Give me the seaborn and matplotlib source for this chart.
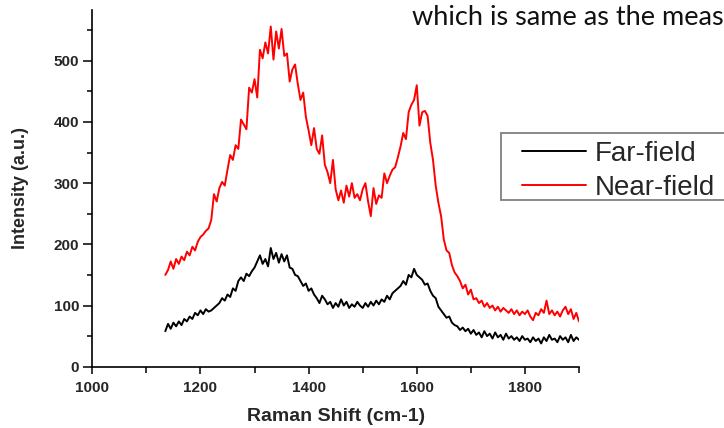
import numpy as np
import pandas as pd
import matplotlib
matplotlib.use("Agg")
import matplotlib.pyplot as plt
import seaborn as sns
from matplotlib.lines import Line2D
from matplotlib.ticker import MultipleLocator

# Raman shift grid (cm-1), every 5 cm-1
shift = [
    1135, 1140, 1145, 1150, 1155, 1160, 1165, 1170, 1175, 1180,
    1185, 1190, 1195, 1200, 1205, 1210, 1215, 1220, 1225, 1230,
    1235, 1240, 1245, 1250, 1255, 1260, 1265, 1270, 1275, 1280,
    1285, 1290, 1295, 1300, 1305, 1310, 1315, 1320, 1325, 1330,
    1335, 1340, 1345, 1350, 1355, 1360, 1365, 1370, 1375, 1380,
    1385, 1390, 1395, 1400, 1405, 1410, 1415, 1420, 1425, 1430,
    1435, 1440, 1445, 1450, 1455, 1460, 1465, 1470, 1475, 1480,
    1485, 1490, 1495, 1500, 1505, 1510, 1515, 1520, 1525, 1530,
    1535, 1540, 1545, 1550, 1555, 1560, 1565, 1570, 1575, 1580,
    1585, 1590, 1595, 1600, 1605, 1610, 1615, 1620, 1625, 1630,
    1635, 1640, 1645, 1650, 1655, 1660, 1665, 1670, 1675, 1680,
    1685, 1690, 1695, 1700, 1705, 1710, 1715, 1720, 1725, 1730,
    1735, 1740, 1745, 1750, 1755, 1760, 1765, 1770, 1775, 1780,
    1785, 1790, 1795, 1800, 1805, 1810, 1815, 1820, 1825, 1830,
    1835, 1840, 1845, 1850, 1855, 1860, 1865, 1870, 1875, 1880,
    1885, 1890, 1895, 1900,
]

far_field = [
    58, 70, 62, 72, 66, 74, 68, 78, 74, 82,
    78, 88, 84, 92, 86, 94, 90, 92, 96, 100,
    104, 112, 108, 118, 114, 128, 124, 140, 146, 140,
    152, 148, 156, 162, 172, 182, 168, 176, 164, 194,
    176, 186, 170, 184, 172, 182, 162, 160, 150, 148,
    140, 132, 136, 124, 128, 118, 112, 104, 116, 110,
    102, 106, 96, 104, 98, 110, 100, 106, 96, 102,
    98, 106, 100, 96, 104, 98, 106, 100, 108, 102,
    110, 106, 116, 110, 120, 124, 128, 132, 140, 134,
    150, 146, 160, 150, 146, 142, 134, 136, 124, 116,
    112, 98, 92, 86, 80, 82, 72, 68, 66, 60,
    64, 58, 62, 54, 60, 52, 56, 48, 58, 50,
    54, 46, 56, 48, 52, 44, 54, 46, 50, 44,
    48, 42, 50, 44, 46, 40, 48, 42, 46, 38,
    48, 42, 52, 44, 46, 40, 50, 44, 48, 40,
    52, 42, 48, 44,
]

near_field = [
    150, 158, 172, 160, 176, 168, 180, 174, 188, 182,
    196, 190, 204, 212, 216, 222, 226, 240, 282, 270,
    292, 302, 296, 322, 346, 338, 362, 356, 404, 396,
    388, 456, 448, 470, 440, 518, 504, 530, 512, 556,
    502, 548, 520, 552, 508, 512, 466, 486, 494, 462,
    436, 448, 408, 386, 362, 390, 356, 348, 378, 330,
    318, 300, 338, 290, 272, 288, 268, 296, 278, 300,
    276, 282, 272, 290, 300, 270, 246, 292, 266, 280,
    276, 316, 300, 312, 322, 326, 342, 360, 382, 372,
    416, 428, 436, 460, 394, 416, 418, 410, 366, 338,
    296, 268, 246, 208, 190, 186, 166, 154, 148, 140,
    128, 134, 118, 126, 110, 112, 104, 108, 98, 104,
    96, 100, 92, 98, 90, 96, 92, 88, 94, 86,
    92, 84, 90, 86, 92, 82, 76, 88, 84, 94,
    88, 108, 86, 92, 84, 90, 82, 92, 98, 86,
    94, 78, 88, 74,
]

series_names = ["Far-field", "Near-field"]

df = pd.concat([
    pd.DataFrame({"shift": shift, "intensity": far_field, "series": series_names[0]}),
    pd.DataFrame({"shift": shift, "intensity": near_field, "series": series_names[1]}),
])

sns.set_style("ticks")
plt.rcParams["font.family"] = ["Liberation Sans", "DejaVu Sans"]

W, H = 724, 428
fig = plt.figure(figsize=(W / 100, H / 100), dpi=100)
fig.patch.set_facecolor("white")
ax = fig.add_axes([92.3 / W, 1 - 366.7 / H, (579 - 92.3) / W, (366.7 - 10) / H])

sns.lineplot(data=df, x="shift", y="intensity", hue="series", hue_order=series_names,
             palette={"Far-field": "black", "Near-field": "red"},
             linewidth=1.4, ax=ax, estimator=None)

ax.set_xlim(1000, 1900)
ax.set_ylim(0, 583)
ax.xaxis.set_major_locator(MultipleLocator(200))
ax.xaxis.set_minor_locator(MultipleLocator(100))
ax.yaxis.set_major_locator(MultipleLocator(100))
ax.yaxis.set_minor_locator(MultipleLocator(50))
ax.tick_params(axis="x", which="major", length=5, width=1.1, pad=5, labelsize=11, color="black")
ax.tick_params(axis="x", which="minor", length=4, width=1.1, color="black")
ax.tick_params(axis="y", which="major", length=6.5, width=1.1, pad=3, labelsize=11, color="black")
ax.tick_params(axis="y", which="minor", length=3.6, width=1.1, color="black")
for lab in ax.get_xticklabels() + ax.get_yticklabels():
    lab.set_fontweight("bold")
sns.despine(ax=ax)
for sp in ["left", "bottom"]:
    ax.spines[sp].set_linewidth(1.2)
    ax.spines[sp].set_color("black")

ax.set_xlabel("Raman Shift (cm-1)", fontsize=14, fontweight="bold", labelpad=10)
ax.set_ylabel("Intensity (a.u.)", fontsize=13, fontweight="bold", labelpad=18)

# legend: its frame runs off the right edge of the picture, so draw only three sides
handles, labels = ax.get_legend_handles_labels()
ax.get_legend().remove()
x0, x1, y_top, y_bot = 500.7 / W, 723.5 / W, 1 - 133.3 / H, 1 - 200 / H
fig.add_artist(Line2D([x1, x0, x0, x1], [y_top, y_top, y_bot, y_bot], transform=fig.transFigure,
                      color="#808080", linewidth=1.3, solid_capstyle="butt", solid_joinstyle="miter"))
fig.legend(handles, labels, loc="upper left", bbox_to_anchor=(521.7 / W, 1 - 141 / H),
           frameon=False, fontsize=20, borderpad=0, borderaxespad=0,
           handlelength=2.3, handletextpad=0.33, labelspacing=0.29)

fig.text(412 / W, 1 - 25 / H, "which is same as the meas", fontsize=19.5,
         family=["Lato", "DejaVu Sans"], color="#111111", va="baseline", ha="left")

fig.savefig("out.png", dpi=100)
